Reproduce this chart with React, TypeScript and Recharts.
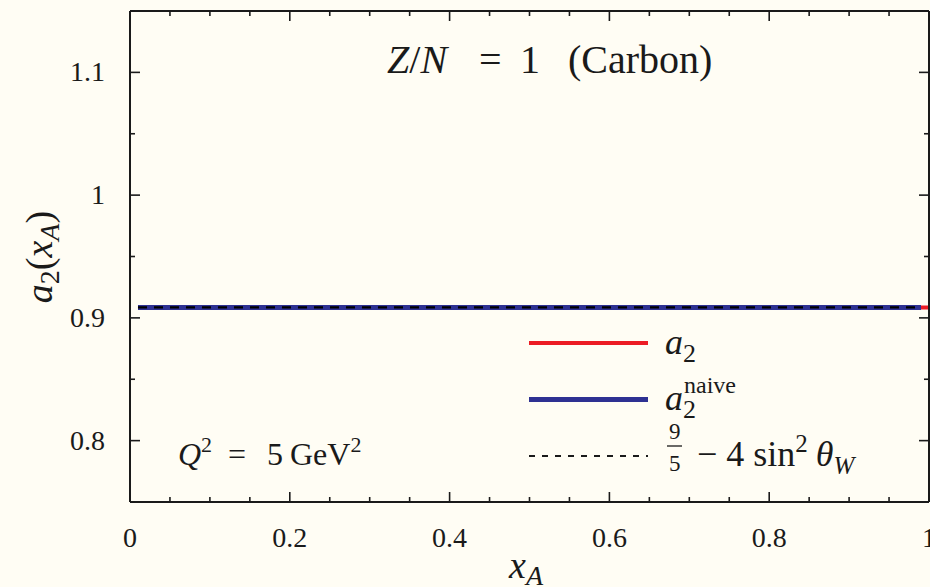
import React from "react";
import { LineChart, Line, XAxis, YAxis, Legend } from "recharts";

// values: all three curves sit flat at ~0.9085
const xA = [0.01, 0.2, 0.4, 0.6, 0.8, 0.99, 1.0];
const a2 = [0.9085, 0.9085, 0.9085, 0.9085, 0.9085, 0.9085, 0.9085];
const a2Naive = [0.9085, 0.9085, 0.9085, 0.9085, 0.9085, 0.9085, null];
const weinberg = [0.9085, 0.9085, 0.9085, 0.9085, 0.9085, 0.9085, null];

const xTicks = [0, 0.05, 0.1, 0.15, 0.2, 0.25, 0.3, 0.35, 0.4, 0.45, 0.5, 0.55, 0.6, 0.65, 0.7, 0.75, 0.8, 0.85, 0.9, 0.95, 1];
const xMajor = [0, 0.2, 0.4, 0.6, 0.8, 1];
const yTicks = [0.75, 0.8, 0.85, 0.9, 0.95, 1, 1.05, 1.1, 1.15];
const yMajor = [0.8, 0.9, 1, 1.1];

const data = xA.map((x, i) => ({ x, a2: a2[i], naive: a2Naive[i], sm: weinberg[i] }));

const BG = "#fffdf4";
const INK = "#1a1a1a";
const RED = "#ec1c24";
const BLUE = "#2e3192";
const SERIF = "'Liberation Serif', 'DejaVu Serif', serif";

const isMajor = (v: number, list: number[]) => list.some((m) => Math.abs(m - v) < 1e-6);
const fmt = (v: number) => String(Math.round(v * 100) / 100);

function LeftTick({ x, y, payload }: any) {
  const major = isMajor(payload.value, yMajor);
  return (
    <g>
      <line x1={x} x2={x + (major ? 10 : 5)} y1={y} y2={y} stroke={INK} strokeWidth={1.6} />
      {major && (
        <text x={x - 25} y={y + 9} textAnchor="end" fontFamily={SERIF} fontSize={28} fill={INK}>
          {fmt(payload.value)}
        </text>
      )}
    </g>
  );
}

function RightTick({ x, y, payload }: any) {
  const major = isMajor(payload.value, yMajor);
  return <line x1={x} x2={x - (major ? 10 : 5)} y1={y} y2={y} stroke={INK} strokeWidth={1.6} />;
}

function BottomTick({ x, y, payload }: any) {
  const major = isMajor(payload.value, xMajor);
  return (
    <g>
      <line x1={x} x2={x} y1={y} y2={y - (major ? 10 : 5)} stroke={INK} strokeWidth={1.6} />
      {major && (
        <text x={x} y={y + 45} textAnchor="middle" fontFamily={SERIF} fontSize={28} fill={INK}>
          {fmt(payload.value)}
        </text>
      )}
    </g>
  );
}

function TopTick({ x, y, payload }: any) {
  const major = isMajor(payload.value, xMajor);
  return <line x1={x} x2={x} y1={y} y2={y + (major ? 10 : 5)} stroke={INK} strokeWidth={1.6} />;
}

function LegendBox() {
  const rows = [
    { color: RED, dash: undefined, w: 4 },
    { color: BLUE, dash: undefined, w: 5 },
    { color: INK, dash: "6 7", w: 2 },
  ];
  return (
    <svg width={380} height={150} style={{ overflow: "visible", display: "block" }}>
      {rows.map((r, i) => (
        <line key={i} x1={0} x2={119} y1={17 + i * 56.5} y2={17 + i * 56.5}
          stroke={r.color} strokeWidth={r.w} strokeDasharray={r.dash} />
      ))}
      <g fontFamily={SERIF} fill={INK}>
        <text x={136} y={28} fontSize={36}>
          <tspan fontStyle="italic">a</tspan>
          <tspan fontSize={26} dy={8}>2</tspan>
        </text>
        <text x={136} y={84} fontSize={36}>
          <tspan fontStyle="italic">a</tspan>
          <tspan fontSize={26} dy={8}>2</tspan>
          <tspan fontSize={24} dx={-12} dy={-25}>naive</tspan>
        </text>
        <text x={140} y={113} fontSize={23}>9</text>
        <line x1={138} x2={153} y1={120} y2={120} stroke={INK} strokeWidth={1.3} />
        <text x={140} y={145} fontSize={23}>5</text>
        <text x={168} y={140} fontSize={36}>
          − 4 sin<tspan fontSize={25} dy={-14}>2</tspan>
          <tspan dy={14} dx={8} fontStyle="italic">θ</tspan>
          <tspan fontSize={25} dy={8} fontStyle="italic">W</tspan>
        </text>
      </g>
    </svg>
  );
}

export default function App() {
  return (
    <div style={{ position: "absolute", left: 0, top: 0, width: 930, height: 587, background: BG, overflow: "hidden" }}>
      <LineChart width={930} height={587} data={data} margin={{ top: 10, right: 0, bottom: 0, left: 0 }}>
        <XAxis xAxisId="b" dataKey="x" type="number" domain={[0, 1]} ticks={xTicks} interval={0}
          height={85} tickSize={0} tickMargin={0} tickLine={false} tick={<BottomTick />}
          axisLine={{ stroke: INK, strokeWidth: 2 }} allowDataOverflow />
        <XAxis xAxisId="t" orientation="top" dataKey="x" type="number" domain={[0, 1]} ticks={xTicks}
          interval={0} height={1} tickSize={0} tickMargin={0} tickLine={false} tick={<TopTick />}
          axisLine={{ stroke: INK, strokeWidth: 2 }} allowDataOverflow />
        <YAxis yAxisId="l" type="number" domain={[0.75, 1.15]} ticks={yTicks} interval={0} width={130}
          tickSize={0} tickMargin={0} tickLine={false} tick={<LeftTick />}
          axisLine={{ stroke: INK, strokeWidth: 2 }} allowDataOverflow />
        <YAxis yAxisId="r" orientation="right" type="number" domain={[0.75, 1.15]} ticks={yTicks}
          interval={0} width={1} tickSize={0} tickMargin={0} tickLine={false} tick={<RightTick />}
          axisLine={{ stroke: INK, strokeWidth: 2 }} allowDataOverflow />
        <Line xAxisId="b" yAxisId="l" dataKey="a2" stroke={RED} strokeWidth={4} dot={false}
          isAnimationActive={false} connectNulls={false} />
        <Line xAxisId="b" yAxisId="l" dataKey="naive" stroke={BLUE} strokeWidth={5} dot={false}
          isAnimationActive={false} connectNulls={false} />
        <Line xAxisId="b" yAxisId="l" dataKey="sm" stroke="#000" strokeWidth={2.2} strokeDasharray="9 7"
          dot={false} isAnimationActive={false} connectNulls={false} />
        <Legend layout="horizontal" verticalAlign="middle" align="center" content={<LegendBox />}
          wrapperStyle={{ position: "absolute", left: 529, top: 326, width: 380, height: 150 }} />
      </LineChart>
      <svg width={930} height={587} style={{ position: "absolute", left: 0, top: 0, pointerEvents: "none" }}>
        <g fontFamily={SERIF} fill={INK}>
          <text y={73} fontSize={40}>
            <tspan x={387} fontStyle="italic">Z</tspan>/<tspan fontStyle="italic">N</tspan>
            <tspan x={479}>=</tspan>
            <tspan x={520}>1</tspan>
            <tspan x={568}>(Carbon)</tspan>
          </text>
          <text y={465} fontSize={32}>
            <tspan x={178} fontStyle="italic">Q</tspan>
            <tspan fontSize={22} dy={-13}>2</tspan>
            <tspan x={228} dy={13}>=</tspan>
            <tspan x={267}>5</tspan>
            <tspan x={290}>GeV</tspan>
            <tspan fontSize={22} dy={-13}>2</tspan>
          </text>
          <text x={509} y={578} fontSize={38}>
            <tspan fontStyle="italic">x</tspan>
            <tspan fontSize={28} dy={7} fontStyle="italic">A</tspan>
          </text>
          <text transform="translate(52,257) rotate(-90)" textAnchor="middle" fontSize={38}>
            <tspan fontStyle="italic">a</tspan>
            <tspan fontSize={28} dy={7}>2</tspan>
            <tspan dy={-7}>(</tspan>
            <tspan fontStyle="italic">x</tspan>
            <tspan fontSize={28} dy={7} fontStyle="italic">A</tspan>
            <tspan dy={-7}>)</tspan>
          </text>
        </g>
      </svg>
    </div>
  );
}
